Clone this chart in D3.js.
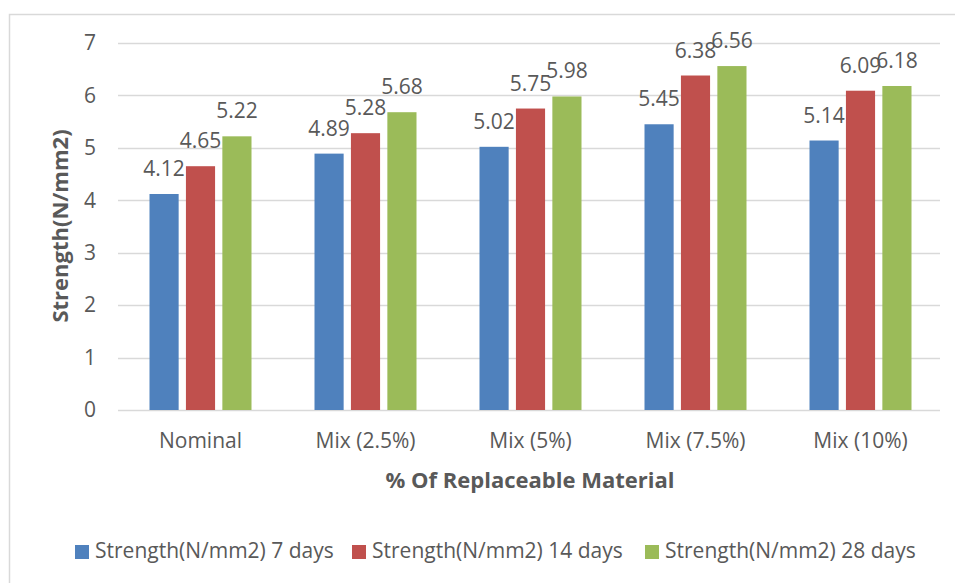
<!DOCTYPE html>
<html>
<head>
<meta charset="utf-8">
<script src="https://cdn.jsdelivr.net/npm/d3@7"></script>
<style>
  html, body { margin: 0; padding: 0; background: #fff; }
  svg { display: block; }
  text { font-family: "Open Sans", sans-serif; fill: #595959; }
</style>
</head>
<body>
<svg id="chart" width="955" height="583"></svg>
<script>
const categories = ["Nominal", "Mix (2.5%)", "Mix (5%)", "Mix (7.5%)", "Mix (10%)"];
const seriesNames = ["Strength(N/mm2) 7 days", "Strength(N/mm2) 14 days", "Strength(N/mm2) 28 days"];
const days7 = [4.12, 4.89, 5.02, 5.45, 5.14];
const days14 = [4.65, 5.28, 5.75, 6.38, 6.09];
const days28 = [5.22, 5.68, 5.98, 6.56, 6.18];
const yTicks = [0, 1, 2, 3, 4, 5, 6, 7];
const colors = ["#4F81BD", "#C0504D", "#9BBB59"];

const seriesValues = [days7, days14, days28];
const svg = d3.select("#chart");
const FONT = "'Open Sans', sans-serif";

// outer chart border
svg.append("rect").attr("x", 9.5).attr("y", 14.5).attr("width", 960).attr("height", 600)
  .attr("fill", "none").attr("stroke", "#d9d9d9").attr("stroke-width", 1.5);

const plot = { left: 118, right: 943, top: 43, bottom: 410 };

const x0 = d3.scaleBand().domain(categories).range([plot.left, plot.right]).paddingInner(0).paddingOuter(0);
const x1 = d3.scaleBand().domain(d3.range(3)).range([0, 102]).paddingInner(0.2).paddingOuter(0);
const y = d3.scaleLinear().domain([0, 7]).range([plot.bottom, plot.top]);

// gridlines
svg.append("g").selectAll("line").data(yTicks).join("line")
  .attr("x1", plot.left).attr("x2", plot.right - 3)
  .attr("y1", d => Math.round(y(d)) + 0.5).attr("y2", d => Math.round(y(d)) + 0.5)
  .attr("stroke", "#d9d9d9").attr("stroke-width", 1.5);

// y tick labels
const yAxis = d3.axisLeft(y).tickValues(yTicks).tickSize(0).tickPadding(0).tickFormat(d3.format("d"));
const gy = svg.append("g").attr("transform", `translate(${plot.left - 22},0)`).call(yAxis);
gy.select(".domain").remove();
gy.selectAll("text").style("font-size", "21px").style("font-family", FONT).attr("fill", "#595959");

// x tick labels
const xAxis = d3.axisBottom(x0).tickSize(0).tickPadding(0);
const gx = svg.append("g").attr("transform", `translate(0,${plot.bottom})`).call(xAxis);
gx.select(".domain").remove();
gx.selectAll("text").attr("dy", null).attr("y", 38).style("font-size", "21px").style("font-family", FONT).attr("fill", "#595959");

// bars
const groups = svg.append("g").selectAll("g").data(categories).join("g")
  .attr("transform", c => `translate(${x0(c) + x0.bandwidth() / 2 - 51},0)`);

groups.each(function(c, ci) {
  const g = d3.select(this);
  seriesValues.forEach((vals, si) => {
    const v = vals[ci];
    g.append("rect")
      .attr("x", x1(si)).attr("width", x1.bandwidth())
      .attr("y", y(v)).attr("height", y(0) - y(v))
      .attr("fill", colors[si]);
    g.append("text")
      .attr("x", x1(si) + x1.bandwidth() / 2)
      .attr("y", y(v) - 18)
      .attr("text-anchor", "middle")
      .style("font-size", "21px")
      .text(d3.format(".2f")(v));
  });
});

// axis titles
svg.append("text").attr("x", 530).attr("y", 488).attr("text-anchor", "middle")
  .style("font-size", "22px").style("font-weight", "bold").text("% Of Replaceable Material");
svg.append("text").attr("transform", "translate(68,226) rotate(-90)").attr("text-anchor", "middle")
  .style("font-size", "22px").style("font-weight", "bold").text("Strength(N/mm2)");

// legend
const legendX = [75, 352, 645];
const legend = svg.append("g").selectAll("g").data(seriesNames).join("g")
  .attr("transform", (d, i) => `translate(${legendX[i]},545)`);
legend.append("rect").attr("width", 14).attr("height", 14).attr("fill", (d, i) => colors[i]);
legend.append("text").attr("x", 20).attr("y", 13).style("font-size", "21px").text(d => d);
</script>
</body>
</html>
